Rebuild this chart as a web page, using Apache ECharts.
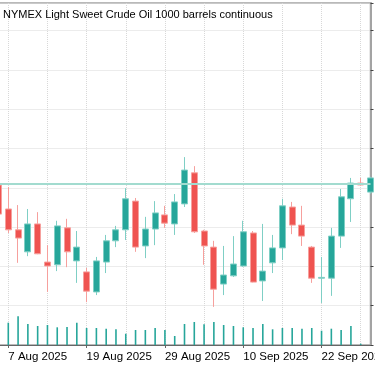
<!DOCTYPE html>
<html>
<head>
<meta charset="utf-8">
<script src="https://cdn.jsdelivr.net/npm/echarts@6/dist/echarts.min.js"></script>
<style>
html,body{margin:0;padding:0;background:#fff;}
#chart{width:375px;height:366px;}
</style>
</head>
<body>
<div id="chart"></div>
<script>
const titleText = 'NYMEX Light Sweet Crude Oil 1000 barrels continuous';
const dates = ['2025-08-06','2025-08-07','2025-08-08','2025-08-11','2025-08-12','2025-08-13','2025-08-14','2025-08-15',
  '2025-08-18','2025-08-19','2025-08-20','2025-08-21','2025-08-22','2025-08-25','2025-08-26','2025-08-27','2025-08-28','2025-08-29',
  '2025-09-01','2025-09-02','2025-09-03','2025-09-04','2025-09-05','2025-09-08','2025-09-09','2025-09-10','2025-09-11','2025-09-12',
  '2025-09-15','2025-09-16','2025-09-17','2025-09-18','2025-09-19','2025-09-22','2025-09-23','2025-09-24','2025-09-25','2025-09-26','2025-09-29'];
const openP  = [65.07,64.46,63.93,63.37,64.08,63.11,63.04,63.98,63.14,62.86,62.35,63.11,63.65,63.93,64.66,63.52,63.95,64.31,64.08,64.59,65.38,63.90,63.49,62.55,62.76,63.01,63.85,62.63,63.09,63.47,64.51,64.05,63.49,62.70,62.70,63.77,64.72,65.12,64.89];
const closeP = [64.33,63.93,63.72,64.08,63.32,63.01,64.03,63.37,63.49,62.37,63.14,63.65,63.93,64.72,63.49,63.95,64.36,64.10,64.64,65.45,63.88,63.52,62.42,62.78,63.06,63.88,62.60,62.88,63.47,64.54,64.05,63.77,62.70,62.72,63.77,64.77,65.12,65.07,65.25];
const lowP   = [64.23,63.85,63.09,63.26,63.31,62.35,62.88,62.98,62.58,62.09,62.27,62.83,63.49,63.67,63.37,63.21,63.54,63.98,63.80,64.51,63.85,63.04,61.97,62.27,62.73,62.99,62.59,62.12,62.83,63.16,63.82,63.52,62.58,62.07,62.25,63.47,64.13,65.06,64.85];
const highP  = [65.15,65.02,64.56,64.46,64.38,63.54,64.16,64.21,63.90,62.96,63.24,63.80,64.03,64.99,64.74,64.26,64.66,64.54,64.84,65.78,65.55,63.93,63.65,63.52,63.77,64.16,63.90,64.08,63.80,64.72,64.64,64.54,63.52,63.24,63.98,64.97,65.25,65.25,65.28];
const volumes = [250000,223000,287000,210000,190000,200000,177000,180000,223000,170000,170000,163000,157000,113000,150000,150000,170000,150000,90000,
  210000,230000,207000,230000,200000,190000,177000,170000,210000,157000,170000,170000,163000,170000,143000,163000,150000,190000,13000,0];
const lastPrice = 65.10;
const priceMin = 61, priceMax = 69.70, priceStep = 1;
const volMax = 3420000;

const months = ['Jan','Feb','Mar','Apr','May','Jun','Jul','Aug','Sep','Oct','Nov','Dec'];
function fmtDate(s){ const p = s.split('-'); return (+p[2]) + ' ' + months[+p[1]-1] + ' ' + p[0]; }

const candles = dates.map((d,i)=>[openP[i], closeP[i], lowP[i], highP[i]]);
const FONT = 'Liberation Sans';

const chart = echarts.init(document.getElementById('chart'), null, {renderer:'canvas'});
chart.setOption({
  animation:false,
  backgroundColor:'#ffffff',
  title:{text:titleText,left:-2,top:4,textStyle:{fontFamily:FONT,fontSize:11,fontWeight:'normal',color:'#000'}},
  grid:{left:-1.5,right:4.5,top:3,bottom:21,containLabel:false,outerBoundsMode:'none',show:true,borderColor:'#a3a3a3',borderWidth:1.5,backgroundColor:'transparent'},
  xAxis:{
    type:'category', data:dates, boundaryGap:false,
    axisLine:{show:true,lineStyle:{color:'#666',width:1}},
    axisTick:{show:true,length:3,interval:(i)=>(i-1)%8===0,lineStyle:{color:'#666'}},
    axisLabel:{interval:(i)=>(i-1)%8===0,formatter:fmtDate,align:'left',margin:6,color:'#000',fontFamily:FONT,fontSize:11.5,hideOverlap:false},
    splitLine:{show:true,interval:(i)=>(i-1)%4===0,lineStyle:{color:'#d8d8d8',type:'dotted',width:1}}
  },
  yAxis:[{
    type:'value', position:'right', min:priceMin, max:priceMax, interval:priceStep, scale:true,
    axisLine:{show:true,lineStyle:{color:'#a3a3a3',width:2}},
    axisTick:{show:true,length:3,lineStyle:{color:'#444'}},
    axisLabel:{show:true,margin:8,color:'#000',fontFamily:FONT,fontSize:11.5,formatter:(v)=>v.toFixed(2)},
    splitLine:{show:true,lineStyle:{color:'#d8d8d8',type:'dotted',width:1}}
  },{
    type:'value', min:0, max:volMax, show:false, splitLine:{show:false}
  }],
  series:[{
    type:'candlestick', data:candles, barWidth:6.5,
    itemStyle:{color:'#26a69a',color0:'#ef5350',borderColor:'#7fcfc5',borderColor0:'#f6a09d',borderWidth:1},
    markLine:{silent:true,symbol:['none','none'],label:{show:false},
      lineStyle:{color:'#a2dbcf',width:2,type:'solid'},data:[{yAxis:lastPrice}]}
  },{
    type:'bar', data:volumes, yAxisIndex:1, barWidth:1.6,
    itemStyle:{color:'#26a69a'}
  }]
});
</script>
</body>
</html>
